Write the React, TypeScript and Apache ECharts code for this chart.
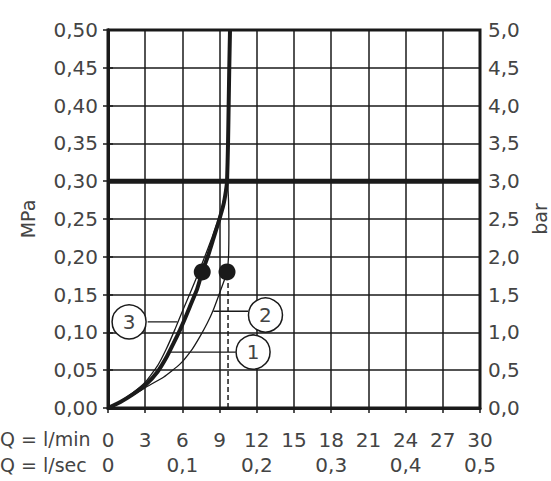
import React, { useEffect, useRef } from "react";
import * as echarts from "echarts";

const qMinTicks = [0, 30, 3];
const qSecTicks = [0, 0.5, 0.1];
const mpaTicks = [0, 0.5, 0.05];
const barTicks = [0, 5, 0.5];

// curve 1 (thick)
const curve1: [number, number][] = [
  [0, 0], [1, 0.008], [2, 0.018], [3, 0.03], [4, 0.048], [4.75, 0.068],
  [5.3, 0.086], [5.8, 0.103], [6.2, 0.118], [6.6, 0.134], [7.2, 0.158],
  [7.6, 0.18], [8.1, 0.203], [8.5, 0.224], [8.9, 0.245], [9.3, 0.268],
  [9.5, 0.286], [9.6, 0.3], [9.68, 0.35], [9.73, 0.4], [9.78, 0.45], [9.84, 0.5],
];
// curve 3 (thin, left)
const curve3: [number, number][] = [
  [0, 0], [1, 0.009], [2, 0.02], [3, 0.034], [4, 0.056], [4.7, 0.078],
  [5.4, 0.104], [6, 0.128], [6.6, 0.151], [7.2, 0.175], [7.8, 0.2],
  [8.4, 0.226], [9, 0.255], [9.4, 0.28], [9.6, 0.3],
];
// curve 2 (thin, right)
const curve2: [number, number][] = [
  [0, 0], [1, 0.008], [2, 0.017], [3, 0.027], [4.5, 0.041], [5.8, 0.058],
  [6.8, 0.078], [7.4, 0.094], [8, 0.112], [8.5, 0.13], [9, 0.152],
  [9.4, 0.17], [9.6, 0.18], [9.72, 0.2], [9.75, 0.24], [9.72, 0.275],
  [9.65, 0.3],
];
const dots: [number, number][] = [[7.6, 0.18], [9.6, 0.18]];
const dashedLine: [number, number][] = [[9.68, 0], [9.68, 0.18]];
const limitLine: [number, number][] = [[0, 0.3], [30, 0.3]];
const callouts = [
  { name: "3", pos: [1.7, 0.114], leader: [[3.2, 0.114], [5.6, 0.114]] },
  { name: "2", pos: [12.7, 0.123], leader: [[8.5, 0.128], [11.3, 0.128]] },
  { name: "1", pos: [11.7, 0.074], leader: [[5.0, 0.074], [10.3, 0.074]] },
];

const FONT = "DejaVu Sans";
const TXT = "#444";
const LINE = "#1a1a1a";

const comma = (v: number, d: number) => v.toFixed(d).replace(".", ",");

export default function App() {
  const ref = useRef<HTMLDivElement>(null);
  useEffect(() => {
    document.body.style.margin = "0";
    const chart = echarts.init(ref.current!, undefined, { renderer: "svg" });
    const labelStyle = { color: TXT, fontFamily: FONT, fontSize: 20 };
    const series: any[] = [
      {
        type: "line", data: limitLine, symbol: "none", silent: true,
        lineStyle: { color: LINE, width: 5 }, z: 3,
      },
      {
        type: "line", data: dashedLine, symbol: "none",
        lineStyle: { color: LINE, width: 1.5, type: [5, 3] },
      },
      {
        type: "line", data: curve3, symbol: "none", smooth: 0.15,
        lineStyle: { color: LINE, width: 1.3 },
      },
      {
        type: "line", data: curve2, symbol: "none", smooth: 0.15,
        lineStyle: { color: LINE, width: 1.3 },
      },
      {
        type: "line", data: curve1, symbol: "none", smooth: 0.15,
        lineStyle: { color: LINE, width: 4 },
      },
      ...callouts.map((c) => ({
        type: "line", data: c.leader, symbol: "none",
        lineStyle: { color: LINE, width: 1.3 },
      })),
      {
        type: "scatter", data: dots, symbol: "circle", symbolSize: 17,
        itemStyle: { color: LINE, opacity: 1 }, z: 5,
      },
      {
        type: "scatter",
        data: callouts.map((c) => ({ name: c.name, value: c.pos })),
        symbol: "circle", symbolSize: 34, z: 6,
        itemStyle: { color: "#fff", borderColor: LINE, borderWidth: 1.5, opacity: 1 },
        label: {
          show: true, position: "inside", formatter: "{b}",
          color: TXT, fontFamily: FONT, fontSize: 20,
        },
      },
    ];
    chart.setOption({
      animation: false,
      grid: {
        left: 108, right: 71, top: 30, bottom: 73, show: true,
        outerBoundsMode: "none", containLabel: false,
        borderColor: LINE, borderWidth: 3, backgroundColor: "transparent",
      },
      xAxis: [
        {
          type: "value", min: qMinTicks[0], max: qMinTicks[1], interval: qMinTicks[2],
          position: "bottom",
          axisLine: { show: true, lineStyle: { color: LINE, width: 3 } },
          axisTick: { show: true, length: 5, lineStyle: { color: LINE, width: 1.5 } },
          axisLabel: { ...labelStyle, margin: 22, showMinLabel: true, showMaxLabel: true },
          splitLine: { show: true, lineStyle: { color: LINE, width: 1.5 } },
        },
        {
          type: "value", min: qSecTicks[0], max: qSecTicks[1], interval: qSecTicks[2],
          position: "bottom",
          axisLine: { show: false }, axisTick: { show: false },
          axisLabel: { ...labelStyle, margin: 47, formatter: (v: number) => (v === 0 ? "0" : comma(v, 1)) },
          splitLine: { show: false },
        },
      ],
      yAxis: [
        {
          type: "value", min: mpaTicks[0], max: mpaTicks[1], interval: mpaTicks[2],
          position: "left",
          name: "MPa", nameLocation: "middle", nameGap: 71, nameRotate: 90,
          nameTextStyle: { ...labelStyle, fontSize: 19 },
          axisLine: { show: true, lineStyle: { color: LINE, width: 3 } },
          axisTick: { show: true, length: 5, lineStyle: { color: LINE, width: 1.5 } },
          axisLabel: { ...labelStyle, margin: 10, formatter: (v: number) => comma(v, 2) },
          splitLine: { show: true, lineStyle: { color: LINE, width: 1.5 } },
        },
        {
          type: "value", min: barTicks[0], max: barTicks[1], interval: barTicks[2],
          position: "right",
          name: "bar", nameLocation: "middle", nameGap: 49, nameRotate: 90,
          nameTextStyle: { ...labelStyle, fontSize: 19 },
          axisLine: { show: true, lineStyle: { color: LINE, width: 3 } },
          axisTick: { show: true, length: 5, lineStyle: { color: LINE, width: 1.5 } },
          axisLabel: { ...labelStyle, margin: 8, formatter: (v: number) => comma(v, 1) },
          splitLine: { show: false },
        },
      ],
      graphic: [
        {
          type: "text", left: 0, top: 429,
          style: { text: "Q = l/min", fill: TXT, font: `19px "${FONT}"` },
        },
        {
          type: "text", left: 0, top: 455,
          style: { text: "Q = l/sec", fill: TXT, font: `19px "${FONT}"` },
        },
      ],
      series,
    });
    return () => chart.dispose();
  }, []);
  return (
    <div
      ref={ref}
      style={{ position: "absolute", left: 0, top: 0, width: 551, height: 481 }}
    />
  );
}
